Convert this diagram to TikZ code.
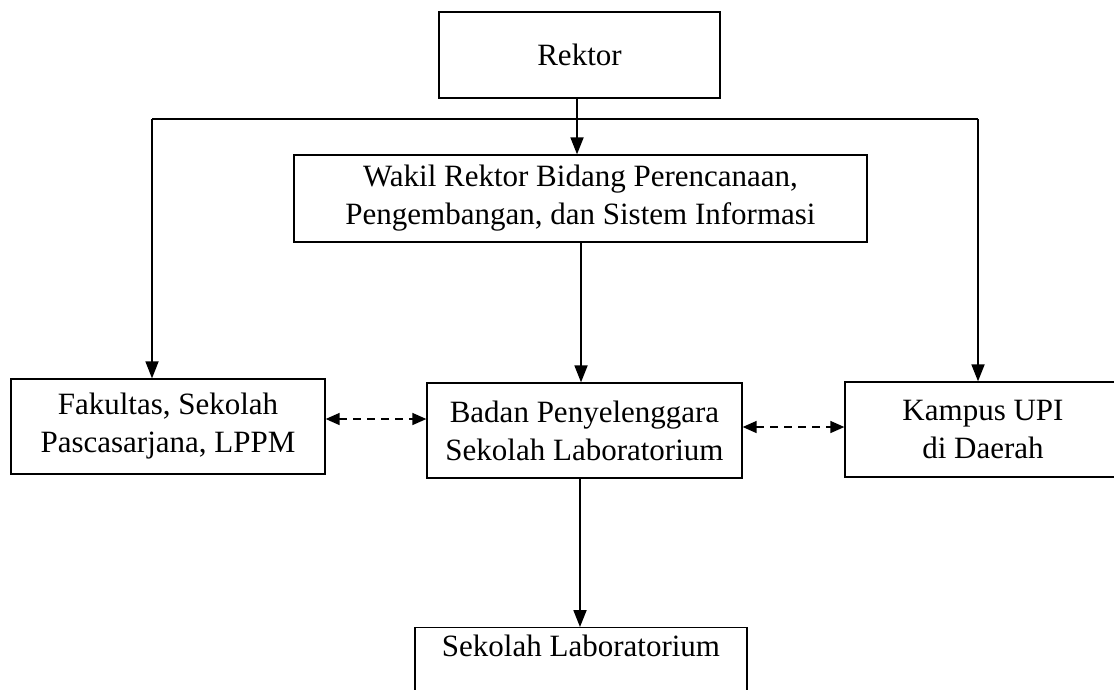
\documentclass[tikz,border=0pt]{standalone}
\usepackage{fontspec}
\setmainfont{Liberation Serif}
\usetikzlibrary{arrows.meta}
\begin{document}
\begin{tikzpicture}[x=1pt,y=1pt,
  box/.style={draw, line width=1.3pt, align=center, inner sep=0pt, font=\fontsize{31}{38}\selectfont},
  arr/.style={line width=1.8pt, -{Triangle[length=17pt,width=13pt]}},
  darr/.style={line width=1.5pt, dash pattern=on 8pt off 6pt, {Triangle[length=14pt,width=12pt]}-{Triangle[length=14pt,width=12pt]}}]
\useasboundingbox (0,0) rectangle (1114,-689);
\node[box, minimum width=281pt, minimum height=86pt] (rek) at (579.5,-55) {Rektor};
\node[box, minimum width=573pt, minimum height=87pt] (wak) at (580.5,-198.5) {Wakil Rektor Bidang Perencanaan,\\Pengembangan, dan Sistem Informasi};
\node[box, minimum width=314pt, minimum height=95pt] (fak) at (168,-426.5) {Fakultas, Sekolah\\Pascasarjana, LPPM};
\node[box, minimum width=315pt, minimum height=95pt] (bad) at (584.5,-430.5) {Badan Penyelenggara\\Sekolah Laboratorium};
\node[box, minimum width=276pt, minimum height=95pt] (kam) at (983,-429.5) {Kampus UPI\\di Daerah};
\node[box, minimum width=332pt, inner ysep=7pt, text depth=70pt, anchor=north] (sek) at (581,-627) {Sekolah Laboratorium};
\coordinate (tl) at (152,-119);
\coordinate (tr) at (978,-119);
\coordinate (dl) at (0,-419);
\coordinate (dr) at (0,-427);
\draw[line width=1.8pt] (tl) -- (tr);
\draw[arr] (tl) -- (tl |- fak.north);
\draw[arr] (tr) -- (tr |- kam.north);
\draw[arr] (rek.south -| 577,0) -- (wak.north -| 577,0);
\draw[arr] (wak.south -| 581,0) -- (bad.north -| 581,0);
\draw[arr] (bad.south -| 580,0) -- (sek.north -| 580,0);
\draw[darr] (fak.east |- dl) -- (bad.west |- dl);
\draw[darr] (bad.east |- dr) -- (kam.west |- dr);
\end{tikzpicture}
\end{document}
